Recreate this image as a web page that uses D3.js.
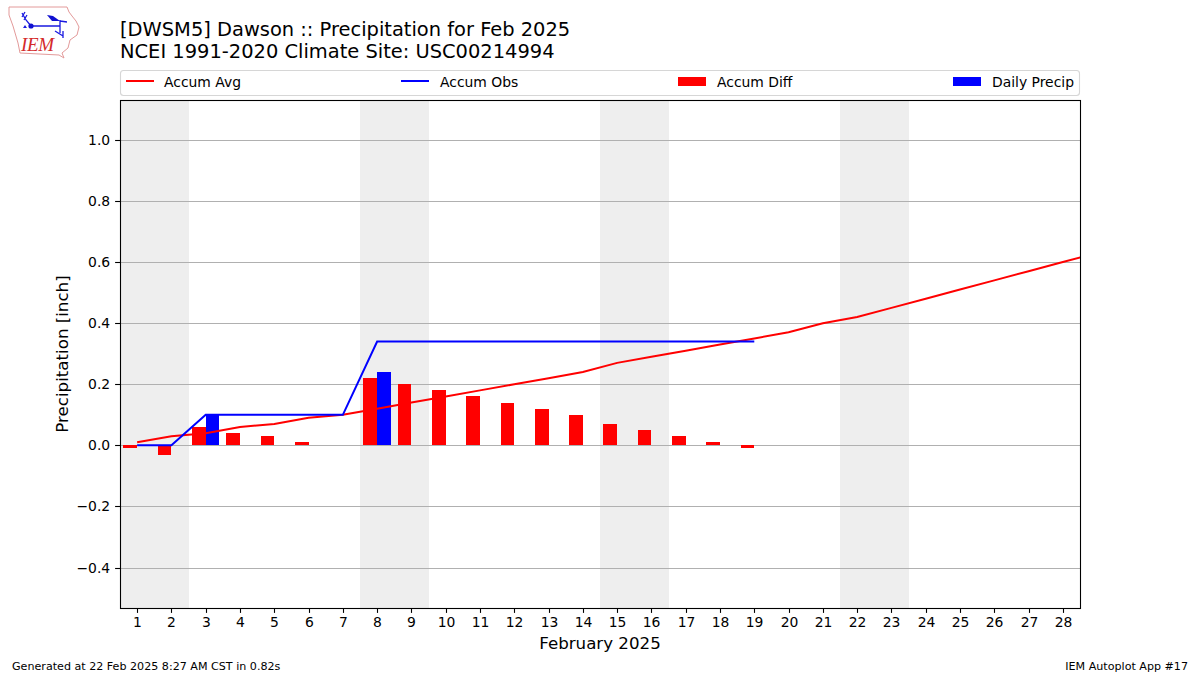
<!DOCTYPE html>
<html>
<head>
<meta charset="utf-8">
<script src="https://cdn.jsdelivr.net/npm/d3@7"></script>
<style>
html, body { margin: 0; padding: 0; background: #fff; }
svg { display: block; font-family: "DejaVu Sans", sans-serif; }
</style>
</head>
<body>
<svg width="1200" height="675"></svg>
<script>
var days = d3.range(1, 29)
var accumAvg = [0.01, 0.03, 0.04, 0.06, 0.07, 0.09, 0.10, 0.12, 0.14, 0.16, 0.18, 0.20, 0.22, 0.24,
    0.27, 0.29, 0.31, 0.33, 0.35, 0.37, 0.40, 0.42, 0.45, 0.48, 0.51, 0.54, 0.57, 0.60, 0.63]
var accumObs = [0, 0, 0.10, 0.10, 0.10, 0.10, 0.10, 0.34, 0.34, 0.34, 0.34, 0.34, 0.34, 0.34,
    0.34, 0.34, 0.34, 0.34, 0.34]
var accumDiff = [-0.01, -0.03, 0.06, 0.04, 0.03, 0.01, 0, 0.22, 0.20, 0.18, 0.16, 0.14, 0.12, 0.10,
    0.07, 0.05, 0.03, 0.01, -0.01]
var dailyPrecip = [0, 0, 0.10, 0, 0, 0, 0, 0.24, 0, 0, 0, 0, 0, 0, 0, 0, 0, 0, 0]
var weekends = [[0.5, 2.5], [7.5, 9.5], [14.5, 16.5], [21.5, 23.5]]
var yTicks = [-0.4, -0.2, 0, 0.2, 0.4, 0.6, 0.8, 1.0]
var legendItems = [
    { name: 'Accum Avg', color: 'red', type: 'line', x: 126 },
    { name: 'Accum Obs', color: 'blue', type: 'line', x: 401 },
    { name: 'Accum Diff', color: 'red', type: 'bar', x: 678 },
    { name: 'Daily Precip', color: 'blue', type: 'bar', x: 953 }
]

var svg = d3.select('svg')
var left = 120, right = 1080, top_ = 100, bottom = 608

var x = d3.scaleLinear().domain([0.5, 28.5]).range([left, right])
var y = d3.scaleLinear().domain([-0.5324, 1.1305]).range([bottom, top_])

// same pixel snapping the reference has on its thin lines and bars
function snap (v) { return Math.round(v) + 0.5 }

svg.append('defs').append('clipPath').attr('id', 'plot')
    .append('rect')
    .attr('x', left).attr('y', top_)
    .attr('width', right - left).attr('height', bottom - top_)

var plot = svg.append('g').attr('clip-path', 'url(#plot)')

plot.selectAll('rect.weekend')
    .data(weekends)
    .enter()
    .append('rect')
    .attr('class', 'weekend')
    .attr('x', function (d) { return Math.round(x(d[0])) })
    .attr('width', function (d) { return Math.round(x(d[1])) - Math.round(x(d[0])) })
    .attr('y', top_)
    .attr('height', bottom - top_)
    .attr('fill', '#eeeeee')

// grid
plot.selectAll('line.grid')
    .data(yTicks)
    .enter()
    .append('line')
    .attr('class', 'grid')
    .attr('x1', left).attr('x2', right)
    .attr('y1', function (d) { return snap(y(d)) })
    .attr('y2', function (d) { return snap(y(d)) })
    .attr('stroke', '#b0b0b0')
    .attr('stroke-width', 1.1)

function drawBars (values, color, offset) {
    plot.selectAll('rect.bar-' + color)
        .data(values)
        .enter()
        .append('rect')
        .attr('class', 'bar-' + color)
        .attr('x', function (d, i) { return Math.round(x(days[i] + offset)) })
        .attr('width', function (d, i) { return Math.round(x(days[i] + offset + 0.4)) - Math.round(x(days[i] + offset)) })
        .attr('y', function (d) { return Math.round(y(Math.max(d, 0))) })
        .attr('height', function (d) { return Math.abs(Math.round(y(d)) - Math.round(y(0))) })
        .attr('fill', color)
}
drawBars(accumDiff, 'red', -0.4)
drawBars(dailyPrecip, 'blue', 0)

var line = d3.line()
    .x(function (d, i) { return x(i + 1) })
    .y(function (d) { return y(d) })

plot.append('path').attr('d', line(accumAvg))
    .attr('fill', 'none').attr('stroke', 'red').attr('stroke-width', 2)
plot.append('path').attr('d', line(accumObs))
    .attr('fill', 'none').attr('stroke', 'blue').attr('stroke-width', 2)

// axes
var xAxis = d3.axisBottom(x).tickValues(days).tickFormat(d3.format('d'))
    .tickSize(4.9).tickPadding(4.5).tickSizeOuter(0).offset(0)
var yAxis = d3.axisLeft(y).tickValues(yTicks)
    .tickFormat(function (d) { return d3.format('.1f')(d).replace('-', '\u2212') })
    .tickSize(4.9).tickPadding(4.9).tickSizeOuter(0).offset(0)

var gx = svg.append('g').attr('transform', 'translate(0,' + bottom + ')').call(xAxis)
var gy = svg.append('g').attr('transform', 'translate(' + left + ',0)').call(yAxis)
gx.select('.domain').remove()
gy.select('.domain').remove()
gx.selectAll('.tick').attr('transform', function (d) { return 'translate(' + snap(x(d)) + ',0)' })
gy.selectAll('.tick').attr('transform', function (d) { return 'translate(0,' + snap(y(d)) + ')' })
svg.selectAll('.tick text').attr('font-size', 13.9).attr('font-family', '"DejaVu Sans"').attr('fill', '#000')
svg.selectAll('.tick line').attr('stroke', '#000').attr('stroke-width', 1.1)

svg.append('rect')
    .attr('x', left + 0.5).attr('y', top_ + 0.5)
    .attr('width', right - left).attr('height', bottom - top_)
    .attr('fill', 'none').attr('stroke', '#000').attr('stroke-width', 1.1)

// axis titles
svg.append('text').attr('x', 600).attr('y', 649)
    .attr('text-anchor', 'middle').attr('font-size', 16.67)
    .text('February 2025')
svg.append('text')
    .attr('transform', 'translate(68,354) rotate(-90)')
    .attr('text-anchor', 'middle').attr('font-size', 16.67)
    .text('Precipitation [inch]')

// title
svg.append('text').attr('x', 120).attr('y', 35.5).attr('font-size', 19.44)
    .text('[DWSM5] Dawson :: Precipitation for Feb 2025')
svg.append('text').attr('x', 120).attr('y', 57.5).attr('font-size', 19.44)
    .text('NCEI 1991-2020 Climate Site: USC00214994')

// legend
svg.append('rect')
    .attr('x', 120.5).attr('y', 70.5)
    .attr('width', 959).attr('height', 25)
    .attr('rx', 3).attr('fill', '#fff')
    .attr('stroke', '#d6d6d6').attr('stroke-width', 1.1)

var legend = svg.selectAll('g.legend')
    .data(legendItems)
    .enter()
    .append('g')
    .attr('class', 'legend')
    .attr('transform', function (d) { return 'translate(' + d.x + ',0)' })

legend.filter(function (d) { return d.type === 'line' })
    .append('line')
    .attr('x1', 0).attr('x2', 28).attr('y1', 81).attr('y2', 81)
    .attr('stroke', function (d) { return d.color }).attr('stroke-width', 2)
legend.filter(function (d) { return d.type === 'bar' })
    .append('rect')
    .attr('x', 0).attr('y', 77).attr('width', 28).attr('height', 9)
    .attr('fill', function (d) { return d.color })
legend.append('text')
    .attr('x', function (d) { return d.type === 'line' && d.x === 126 ? 38 : 39 })
    .attr('y', 86.5)
    .attr('font-size', 13.9)
    .text(function (d) { return d.name })

// footer
svg.append('text').attr('x', 12).attr('y', 670).attr('font-size', 11.12)
    .text('Generated at 22 Feb 2025 8:27 AM CST in 0.82s')
svg.append('text').attr('x', 1188).attr('y', 670).attr('font-size', 11.12)
    .attr('text-anchor', 'end')
    .text('IEM Autoplot App #17')

// logo
var logo = svg.append('g').attr('class', 'logo')
logo.append('path')
    .attr('d', 'M9,7 L67,7 L69,12 L72,16 L76,21 L79,27 L77,35 L70,40 L68,48 L62,53 L64,58 L59,55 L20,53 L18,43 L13,26 L9,15 Z')
    .attr('fill', '#fff').attr('stroke', '#e39a9a').attr('stroke-width', 1)
logo.append('path')
    .attr('d', 'M31,26 L60,26 M60,20 L60,33 M60,21 L67,22 M22,13 L26,20 L31,26 M22,17 L25,12 M24,20 L27,15 M55,31 L63,36 M63,31 L63,38')
    .attr('fill', 'none').attr('stroke', '#1a1ae0').attr('stroke-width', 1.3)
logo.append('circle').attr('cx', 31).attr('cy', 26).attr('r', 2.6).attr('fill', '#1010d0')
logo.append('path').attr('d', 'M47,15 L53,16 L60,21 L52,21 Z').attr('fill', '#1010d0')
logo.append('path').attr('d', 'M23,28 L25,25 L27,28 Z').attr('fill', '#1a1ae0')
logo.append('text').attr('x', 21).attr('y', 51)
    .attr('font-family', '"Liberation Serif"').attr('font-style', 'italic')
    .attr('font-size', 19).attr('fill', '#d42a2a')
    .attr('textLength', 33)
    .text('IEM')
</script>
</body>
</html>
